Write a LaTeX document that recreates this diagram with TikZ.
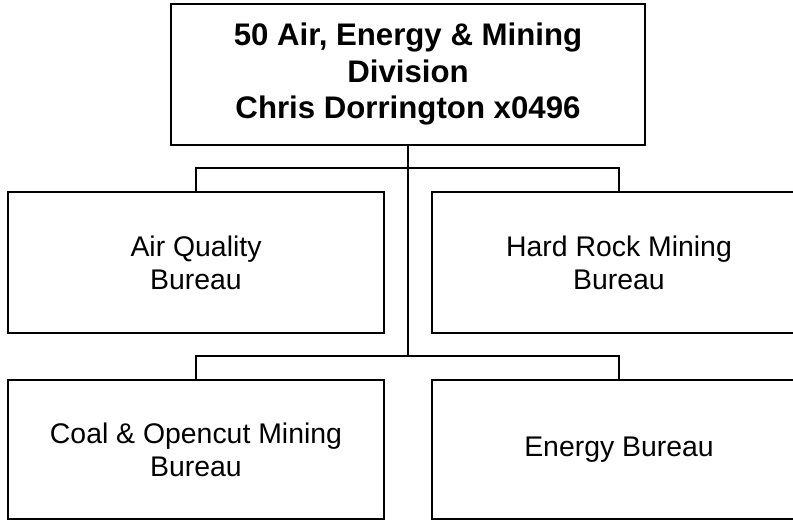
\documentclass[tikz,border=0pt]{standalone}
\usepackage{fontspec}
\setmainfont{Liberation Sans}
\begin{document}
\begin{tikzpicture}[x=1pt,y=-1pt,
  box/.style={draw=black,line width=1.6pt,rectangle,align=center,inner sep=0pt},
  headbox/.style={box,minimum width=474pt,minimum height=141pt,font=\fontsize{31.2}{36.5}\selectfont\bfseries},
  unitbox/.style={box,minimum width=376pt,minimum height=141pt,font=\fontsize{28.4}{32.8}\selectfont},
  link/.style={draw=black,line width=1.6pt}]
\useasboundingbox (0,0) rectangle (793,521);
\clip (0,0) rectangle (793,521);
\node[headbox] (top) at (408,74.5) {50 Air, Energy \& Mining\\Division\\Chris Dorrington x0496};
\node[unitbox] (aq) at (196,262.5) {Air Quality\\Bureau};
\node[unitbox,minimum width=374pt] (hr) at (619,262.5) {Hard Rock Mining\\Bureau};
\node[unitbox,minimum height=139pt] (co) at (196,449.5) {Coal \& Opencut Mining\\Bureau};
\node[unitbox,minimum width=374pt,minimum height=139pt] (en) at (619,449.5) {Energy Bureau};
\coordinate (j1) at (408,168);
\coordinate (j2) at (408,356);
\draw[link] (top.south) -- (j2);
\draw[link] (aq.north) |- (j1) -| (hr.north);
\draw[link] (co.north) |- (j2) -| (en.north);
\end{tikzpicture}
\end{document}
